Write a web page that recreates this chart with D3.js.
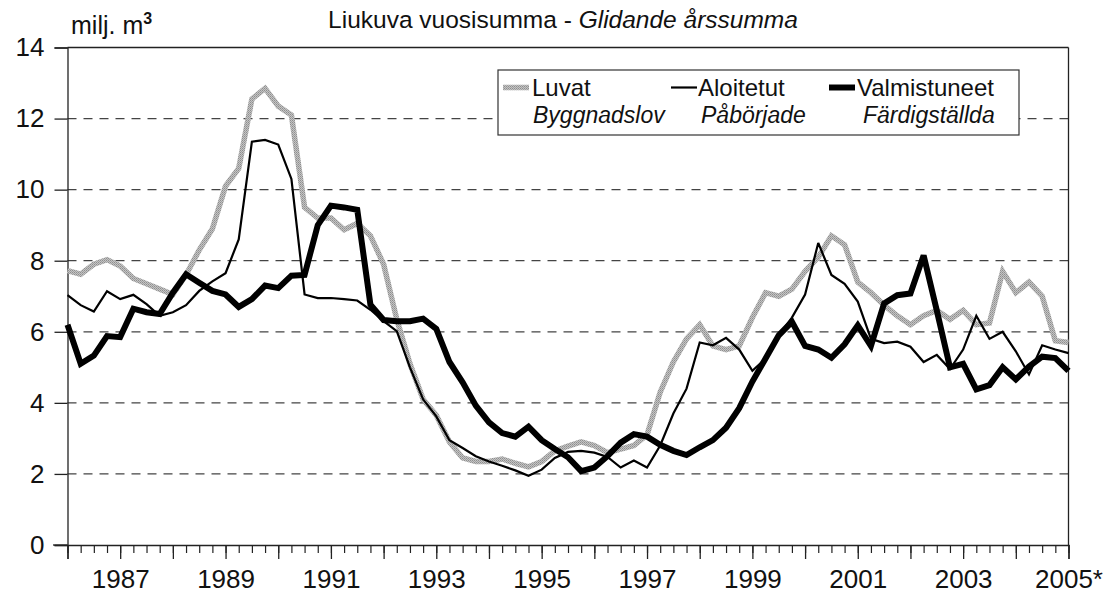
<!DOCTYPE html>
<html><head><meta charset="utf-8">
<script src="https://cdn.jsdelivr.net/npm/d3@7"></script>
<style>
body{margin:0;background:#fff;}
svg{display:block;font-family:"Liberation Sans",Arial,sans-serif;}
</style></head>
<body><svg id="c" width="1107" height="601"></svg>
<script>
// Quarterly data 1986Q1 .. 2005Q1 (77 quarters), million m3, moving annual sum
const quarters = d3.range(77); // index 0 = 1986 Q1
const luvat = [7.72,7.62,7.9,8.03,7.85,7.5,7.35,7.2,7.05,7.6,8.3,8.9,10.1,10.6,12.55,12.85,12.35,12.1,9.5,9.2,
  9.2,8.87,9.05,8.7,7.9,6.35,5.1,4.1,3.65,2.9,2.45,2.35,2.35,2.42,2.3,2.2,2.35,2.65,2.78,2.9,
  2.8,2.6,2.7,2.8,3.1,4.3,5.15,5.8,6.2,5.6,5.5,5.6,6.4,7.1,7.0,7.2,7.7,8.1,8.7,8.45,
  7.4,7.1,6.75,6.45,6.2,6.45,6.6,6.35,6.6,6.2,6.25,7.7,7.1,7.4,7.0,5.75,5.7];
const aloitetut = [7.03,6.75,6.57,7.14,6.92,7.04,6.78,6.45,6.55,6.75,7.15,7.42,7.65,8.6,11.35,11.4,11.27,10.3,7.05,6.95,
  6.95,6.92,6.88,6.62,6.3,6.02,5.0,4.1,3.62,2.95,2.73,2.5,2.35,2.23,2.1,1.95,2.12,2.45,2.62,2.65,
  2.6,2.48,2.18,2.38,2.18,2.8,3.7,4.4,5.7,5.62,5.83,5.5,4.9,5.25,5.9,6.4,7.05,8.5,7.6,7.35,
  6.85,5.8,5.68,5.72,5.58,5.15,5.35,4.95,5.5,6.45,5.8,6.0,5.45,4.8,5.62,5.5,5.4];
const valmistuneet = [6.2,5.1,5.33,5.88,5.85,6.65,6.55,6.5,7.1,7.62,7.38,7.15,7.05,6.7,6.92,7.3,7.23,7.58,7.6,9.0,
  9.55,9.5,9.43,6.76,6.33,6.3,6.3,6.37,6.08,5.15,4.58,3.92,3.45,3.15,3.05,3.33,2.95,2.7,2.47,2.08,
  2.18,2.5,2.88,3.12,3.05,2.82,2.65,2.53,2.75,2.95,3.3,3.85,4.6,5.25,5.9,6.28,5.6,5.5,5.27,5.65,
  6.18,5.6,6.8,7.03,7.08,8.15,6.6,5.0,5.1,4.38,4.5,5.0,4.66,5.02,5.3,5.26,4.9];
const yearTickIdx = d3.range(0, 77, 4);
const labelIdx = [4,12,20,28,36,44,52,60,68,76];
const xLabels = ["1987","1989","1991","1993","1995","1997","1999","2001","2003","2005*"];
const yTicks = [0,2,4,6,8,10,12,14];

const svg = d3.select("#c");
const defs = svg.append("defs");
const pat = defs.append("pattern").attr("id","greyTex").attr("patternUnits","userSpaceOnUse")
  .attr("width",2).attr("height",2);
pat.append("rect").attr("width",2).attr("height",2).attr("fill","#c4c4c4");
pat.append("rect").attr("width",1).attr("height",1).attr("fill","#8e8e8e");
pat.append("rect").attr("x",1).attr("y",1).attr("width",1).attr("height",1).attr("fill","#a0a0a0");

const x = d3.scaleLinear().domain([0,76]).range([67.5,1068.5]);
const y = d3.scaleLinear().domain([0,14]).range([545,47.5]);

// gridlines
svg.append("g").selectAll("line").data(yTicks.filter(v=>v>0&&v<14)).join("line")
  .attr("x1",x(0)).attr("x2",x(76)).attr("y1",d=>y(d)).attr("y2",d=>y(d))
  .attr("stroke","#444").attr("stroke-width",1.2).attr("stroke-dasharray","9,7");
// top and right border
svg.append("line").attr("x1",x(0)).attr("x2",x(76)).attr("y1",y(14)).attr("y2",y(14)).attr("stroke","#222").attr("stroke-width",1.3);
svg.append("line").attr("x1",x(76)).attr("x2",x(76)).attr("y1",y(14)).attr("y2",y(0)).attr("stroke","#222").attr("stroke-width",1.3);

// y axis
const ya = svg.append("g").attr("transform",`translate(${x(0)},0)`)
  .call(d3.axisLeft(y).tickValues(yTicks).tickSize(13).tickPadding(10).tickFormat(d3.format("d")));
ya.select(".domain").attr("stroke","#222").attr("stroke-width",1.3);
ya.selectAll(".tick line").attr("stroke","#222").attr("stroke-width",1.3);
ya.selectAll("text").attr("font-size",26).attr("fill","#111").attr("font-family","Liberation Sans, Arial, sans-serif");

// x axis minor
const xm = svg.append("g").attr("transform",`translate(0,${y(0)})`)
  .call(d3.axisBottom(x).tickValues(quarters).tickSize(8).tickFormat(""));
xm.select(".domain").remove();
xm.selectAll(".tick line").attr("stroke","#222").attr("stroke-width",1.2);
const xM = svg.append("g").attr("transform",`translate(0,${y(0)})`)
  .call(d3.axisBottom(x).tickValues(yearTickIdx).tickSize(14).tickFormat(""));
xM.select(".domain").attr("stroke","#222").attr("stroke-width",1.3);
xM.selectAll(".tick line").attr("stroke","#222").attr("stroke-width",1.3);
const xl = svg.append("g").attr("transform",`translate(0,${y(0)})`)
  .call(d3.axisBottom(x).tickValues(labelIdx).tickSize(0).tickPadding(25).tickFormat((d,i)=>xLabels[i]));
xl.select(".domain").remove();
xl.selectAll("text").attr("font-size",26).attr("fill","#111").attr("font-family","Liberation Sans, Arial, sans-serif");
xl.selectAll("text").filter((d,i)=>i===xLabels.length-1).attr("text-anchor","start").attr("dx",-34);
// extend bottom axis to left
svg.append("line").attr("x1",53).attr("x2",x(0)).attr("y1",y(0)).attr("y2",y(0)).attr("stroke","#222").attr("stroke-width",1.3);

// lines
const line = d3.line().x((d,i)=>x(i)).y(d=>y(d)).curve(d3.curveLinear);
const series = [
  {data:luvat, color:"url(#greyTex)", w:5.5},
  {data:aloitetut, color:"#000", w:2.2},
  {data:valmistuneet, color:"#000", w:6}
];
svg.append("g").selectAll("path").data(series).join("path")
  .attr("d",d=>line(d.data)).attr("fill","none").attr("stroke",d=>d.color)
  .attr("stroke-width",d=>d.w).attr("stroke-linejoin","miter").attr("stroke-miterlimit",3);

// legend
const lg = svg.append("g");
lg.append("rect").attr("x",498).attr("y",70).attr("width",521).attr("height",65)
  .attr("fill","#fff").attr("stroke","#333").attr("stroke-width",1.2);
const legItems = [
  {sx:503, tx:532, t1:"Luvat", t2:"Byggnadslov", t2x:533, s:series[0]},
  {sx:671, tx:698, t1:"Aloitetut", t2:"Påbörjade", t2x:701, s:series[1]},
  {sx:829, tx:857, t1:"Valmistuneet", t2:"Färdigställda", t2x:863, s:series[2]}
];
legItems.forEach(it=>{
  lg.append("line").attr("x1",it.sx).attr("x2",it.sx+26).attr("y1",87.5).attr("y2",87.5)
    .attr("stroke",it.s.color).attr("stroke-width",it.s.w);
  lg.append("text").attr("x",it.tx).attr("y",96).attr("font-size",24).attr("fill","#111").text(it.t1);
  lg.append("text").attr("x",it.t2x).attr("y",123).attr("font-size",23).attr("font-style","italic").attr("fill","#111").text(it.t2);
});

// title & unit
const tt = svg.append("text").attr("x",563).attr("y",28).attr("text-anchor","middle").attr("font-size",24.5).attr("fill","#111");
tt.append("tspan").text("Liukuva vuosisumma - ");
tt.append("tspan").attr("font-style","italic").text("Glidande årssumma");
const ut = svg.append("text").attr("x",71).attr("y",34).attr("font-size",25).attr("fill","#111");
ut.append("tspan").text("milj. m");
ut.append("tspan").attr("font-size",16).attr("dy",-10).attr("font-weight","bold").text("3");
</script></body></html>
